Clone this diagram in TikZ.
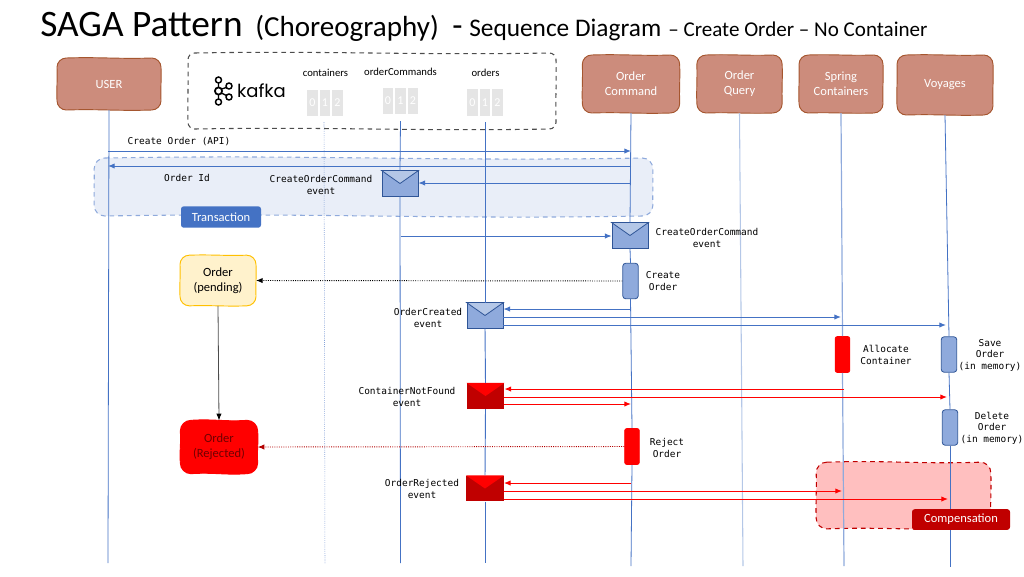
\documentclass[tikz,border=0pt]{standalone}
\usepackage{fontspec}
\setmainfont{Carlito}
\newfontfamily\codefont{DejaVu Sans Mono}
\newfontfamily\logofont{Poppins}
\usetikzlibrary{backgrounds,arrows.meta}

\definecolor{line}{HTML}{4472C4}
\definecolor{linelight}{HTML}{8FAADC}
\definecolor{linefaint}{HTML}{B4C7E7}
\definecolor{envdark}{HTML}{2F5597}
\definecolor{actorfill}{HTML}{CC8C7C}
\definecolor{actorline}{HTML}{A5562F}
\definecolor{darkred}{HTML}{C00000}
\definecolor{rejtext}{HTML}{700000}
\definecolor{pendfill}{HTML}{FFF2CC}
\definecolor{pendline}{HTML}{FFC000}

% hand drawn outline round a node: name, corner, wobble angle, style
\newcommand{\roughbox}[4]{%
  \pgfmathsetmacro{\ra}{#3}%
  \pgfmathsetmacro{\rb}{180+#3}%
  \pgfmathsetmacro{\rc}{-90+#3}%
  \pgfmathsetmacro{\rd}{90+#3}%
  \draw[#4] ([xshift=#2]#1.north west) to[out=\ra,in=\rb] ([xshift=-#2]#1.north east)
    to[out=0,in=90] ([yshift=-#2]#1.north east) to[out=\rc,in=\rd] ([yshift=#2]#1.south east)
    to[out=-90,in=0] ([xshift=-#2]#1.south east) to[out=\rb,in=\ra] ([xshift=#2]#1.south west)
    to[out=180,in=-90] ([yshift=#2]#1.south west) to[out=\rd,in=\rc] ([yshift=-#2]#1.north west)
    to[out=90,in=180] ([xshift=#2]#1.north west) -- cycle;
}

\tikzset{
  actor/.style={text=white,font=\fontsize{9.4}{11.3}\selectfont,align=center,inner sep=0pt,outer sep=0pt},
  actorbox/.style={draw=actorline,fill=actorfill,line width=0.7pt},
  state/.style={font=\fontsize{9.4}{11.3}\selectfont,align=center,inner sep=0pt,outer sep=0pt},
  area/.style={inner sep=0pt,outer sep=0pt},
  areabox/.style={line width=0.8pt,dash pattern=on 3.5pt off 3pt},
  tag/.style={rounded corners=2pt,text=white,font=\fontsize{9.4}{11}\selectfont,inner sep=0pt},
  env/.style={draw=envdark,fill=linelight,line width=0.6pt,minimum width=27pt,minimum height=18.8pt,inner sep=0pt},
  redenv/.style={fill=darkred,minimum width=28pt,minimum height=19.2pt,inner sep=0pt},
  task/.style={draw=envdark,fill=linelight,line width=0.6pt,rounded corners=2pt,minimum width=11.5pt,minimum height=26.5pt,inner sep=0pt},
  redtask/.style={draw=red,fill=red,rounded corners=1.5pt,minimum width=11pt,minimum height=27pt,inner sep=0pt},
  cell/.style={fill=black!10,text=white,minimum width=8pt,minimum height=20pt,inner sep=0pt,
    font=\fontsize{9}{9}\selectfont},
  topic/.style={font=\fontsize{8}{9}\selectfont,inner sep=0pt},
  lbl/.style={font=\codefont\fontsize{7.1}{8.6}\selectfont,align=center,inner sep=0pt,yshift=-0.75pt},
  life/.style={line,line width=0.6pt},
  msg/.style={line,line width=0.7pt,-{Latex[length=5pt,width=4pt]}},
  redmsg/.style={red,line width=0.7pt,-{Latex[length=5pt,width=4pt]}},
  head/.style={anchor=base west,inner sep=0pt},
}

\begin{document}
\begin{tikzpicture}[x=0.75pt,y=-0.75pt]
\useasboundingbox (0,0) rectangle (1024,576);

% title
\node[head,font=\fontsize{28}{30}\selectfont] (title) at (40,36) {SAGA Pattern};
\node[head,font=\fontsize{21.8}{24}\selectfont] (titleb) at (255,36) {(Choreography)};
\node[head,font=\fontsize{25}{30}\selectfont] (titlec) at (452,36) {-};
\node[head,font=\fontsize{19}{24}\selectfont] (titled) at (469,36) {Sequence Diagram};
\node[head,font=\fontsize{15.8}{24}\selectfont] (titlee) at (668,36) {-- Create Order -- No Container};

% areas
\node[area,minimum width=419pt,minimum height=43.5pt] (txn) at (373.5,187) {};
\node[area,minimum width=131pt,minimum height=50pt] (comp) at (903.5,495.5) {};
\node[area,minimum width=276pt,minimum height=57pt] (kafkabox) at (372,91) {};

% actors
\node[actor,minimum width=78pt,minimum height=39pt] (user) at (109,84) {USER};
\node[actor,minimum width=73pt,minimum height=43.5pt] (ordercmd) at (631,84) {Order\\Command};
\node[actor,minimum width=64pt,minimum height=43.5pt] (orderqry) at (739.5,84) {Order\\Query};
\node[actor,minimum width=63pt,minimum height=43.5pt] (spring) at (841,84) {Spring\\Containers};
\node[actor,minimum width=72pt,minimum height=45pt] (voyages) at (945,85) {Voyages};

% states
\node[state,minimum width=57pt,minimum height=38pt] (pending) at (218,280.5) {Order\\(pending)};
\node[state,text=rejtext,minimum width=58pt,minimum height=40pt] (rejected) at (219,447) {Order\\(Rejected)};

% outlines under everything
\begin{scope}[on background layer]
\roughbox{txn}{8pt}{1}{areabox,draw=linelight,fill=line!12}
\roughbox{comp}{8pt}{2}{areabox,draw=darkred,fill=red!25}
\roughbox{kafkabox}{5pt}{1}{areabox,draw=black!70}
\roughbox{user}{7pt}{2}{actorbox}
\roughbox{ordercmd}{7pt}{2}{actorbox}
\roughbox{orderqry}{7pt}{2}{actorbox}
\roughbox{spring}{7pt}{2}{actorbox}
\roughbox{voyages}{7pt}{2}{actorbox}
\roughbox{pending}{7pt}{2}{draw=pendline,fill=pendfill,line width=0.7pt}
\roughbox{rejected}{8pt}{4}{draw=red,fill=red,line width=0.7pt}
\end{scope}

% kafka logo
\foreach \a/\b in {218.5/80,218.5/102,229/86,229/97}
  \draw[line width=1.1pt] (\a,\b) circle [radius=3];
\draw[line width=1.3pt] (218.5,91) circle [radius=3.6];
\draw[line width=1pt] (218.5,83) -- (218.5,87.5) (218.5,94.5) -- (218.5,99)
  (221.5,89) -- (226.4,87.5) (221.5,93) -- (226.4,95.5);
\node[inner sep=0pt,font=\logofont\fontsize{13.5}{14}\selectfont] (kafka) at (261.5,91) {kafka};

% topics
\node[topic] (tcont) at (325.5,72.5) {containers};
\node[topic] (tcmd) at (400.5,71.5) {orderCommands};
\node[topic] (tord) at (485.5,72.5) {orders};
\foreach \n/\y/\x in {a/103/325,b/101/400.5,c/102.5/485}{
  \node[cell] (\n1) at (\x,\y) {1};
  \node[cell,anchor=east] (\n0) at ([xshift=-1pt]\n1.west) {0};
  \node[cell,anchor=west] (\n2) at ([xshift=1pt]\n1.east) {2};
}

% envelopes
\node[env] (envA) at (400,183.5) {};
\node[env] (envB) at (630,235.5) {};
\node[env] (envC) at (485,315.5) {};
\node[redenv] (envD) at (485.5,396) {};
\node[redenv] (envE) at (485,488.5) {};
\foreach \e in {envA,envB,envC}
  \filldraw[draw=envdark,fill=linefaint,line width=0.6pt] (\e.north west) -- (\e.north east) -- (\e.center) -- cycle;
\foreach \e in {envD,envE}
  \fill[red] (\e.north west) -- (\e.north east) -- (\e.center) -- cycle;

% activity boxes
\node[task] (create) at (630.5,281) {};
\node[task] (save) at (949,354.5) {};
\node[task] (delete) at (950,427.5) {};
\node[redtask] (alloc) at (842.5,354.5) {};
\node[redtask] (reject) at (632,446.5) {};

% lifeline ends
\coordinate (uend) at (108,563);
\coordinate (cend) at (325,563);
\coordinate (oend) at (400.5,563);
\coordinate (rend) at (485,563);
\coordinate (mend) at (631,566);
\coordinate (qend) at (743,566);
\coordinate (send) at (844,566);
\coordinate (vend) at (950,567);
\coordinate (ctop) at (324,122);
\coordinate (otop) at (400.5,121);
\coordinate (rtop) at (485,122);

\draw[life] (user.south) -- (uend);
\draw[line,line width=0.4pt,densely dotted] (ctop) -- (cend);
\draw[life] (otop) -- (envA.north);
\draw[life] (envA.south) -- (oend);
\draw[life,line width=0.7pt] (rtop) -- (envC.north);
\draw[life,line width=0.7pt] (envC.south) -- (envD.north);
\draw[life,line width=0.7pt] (envD.south) -- (envE.north);
\draw[life,line width=0.7pt] (envE.south) -- (rend);
\draw[life] (ordercmd.south) -- (envB.north);
\draw[life] (envB.south) -- (create.north);
\draw[life] (create.south) -- (reject.north);
\draw[life] (reject.south) -- (mend);
\draw[linefaint,line width=0.8pt] (orderqry.south) -- (qend);
\draw[linelight,line width=0.9pt] (spring.south) -- (alloc.north);
\draw[linelight,line width=0.9pt] (alloc.south) -- (send);
\draw[life] (voyages.south) -- (save.north);
\draw[life] (save.south) -- (delete.north);
\draw[life] (delete.south) -- (vend);

% message ends on the lifelines
\coordinate (u1) at (108,151);
\coordinate (m1) at (631,151);
\coordinate (u2) at (108,166);
\coordinate (m2) at (631,166);
\coordinate (m3) at (631,183);
\coordinate (o4) at (400.5,236);
\coordinate (m5) at (631,309);
\coordinate (s1) at (841,317);
\coordinate (v1) at (946,325);
\coordinate (s2) at (844,389);
\coordinate (v2) at (947,397);
\coordinate (m6) at (631,404);
\coordinate (m7) at (631,483);
\coordinate (s3) at (842,491);
\coordinate (v3) at (948,499);

\draw[msg] (u1) -- (m1);
\draw[msg] (m2) -- (u2);
\draw[msg] (m3) -- (envA.east |- m3);
\draw[msg] (o4) -- (envB.west |- o4);
\draw[msg] (m5) -- (envC.east |- m5);
\draw[msg] (envC.east |- s1) -- (s1);
\draw[msg] (envC.east |- v1) -- (v1);
\draw[redmsg] (s2) -- (envD.east |- s2);
\draw[redmsg] (envD.east |- v2) -- (v2);
\draw[redmsg] (envD.east |- m6) -- (m6);
\draw[redmsg] (m7) -- (envE.east |- m7);
\draw[redmsg] (envE.east |- s3) -- (s3);
\draw[redmsg] (envE.east |- v3) -- (v3);
\draw[densely dotted,line width=0.7pt,-{Latex[length=5pt,width=4pt]}] (create.west) -- (pending.east);
\draw[red!70!black,densely dotted,line width=0.7pt,-{Latex[length=5pt,width=4pt]}] (reject.west) -- (rejected.east);
\draw[black!70,line width=0.6pt,-{Latex[length=5pt,width=4pt,black]}] (pending.south) -- (rejected.north);

% tags
\node[tag,fill=line,minimum width=60pt,minimum height=16pt] (transaction) at (221,217) {Transaction};
\node[tag,fill=darkred,minimum width=73.5pt,minimum height=15.5pt] (compensation) at (961,519.5) {Compensation};

% labels
\node[lbl] (apilbl) at (179,141) {Create Order (API)};
\node[lbl] (idlbl) at (187,177) {Order Id};
\node[lbl] (cmdlbl) at (321,184) {CreateOrderCommand\\event};
\node[lbl] (cmdlblb) at (707,237) {CreateOrderCommand\\event};
\node[lbl] (createlbl) at (663,280) {Create\\Order};
\node[lbl] (createdlbl) at (428,317) {OrderCreated\\event};
\node[lbl] (alloclbl) at (886,354) {Allocate\\Container};
\node[lbl] (savelbl) at (990,354) {Save\\Order\\(in memory)};
\node[lbl] (nflbl) at (407,396) {ContainerNotFound\\event};
\node[lbl] (dellbl) at (992,427) {Delete\\Order\\(in memory)};
\node[lbl] (rejlbl) at (667,447) {Reject\\Order};
\node[lbl] (rjdlbl) at (422,488) {OrderRejected\\event};
\end{tikzpicture}
\end{document}
